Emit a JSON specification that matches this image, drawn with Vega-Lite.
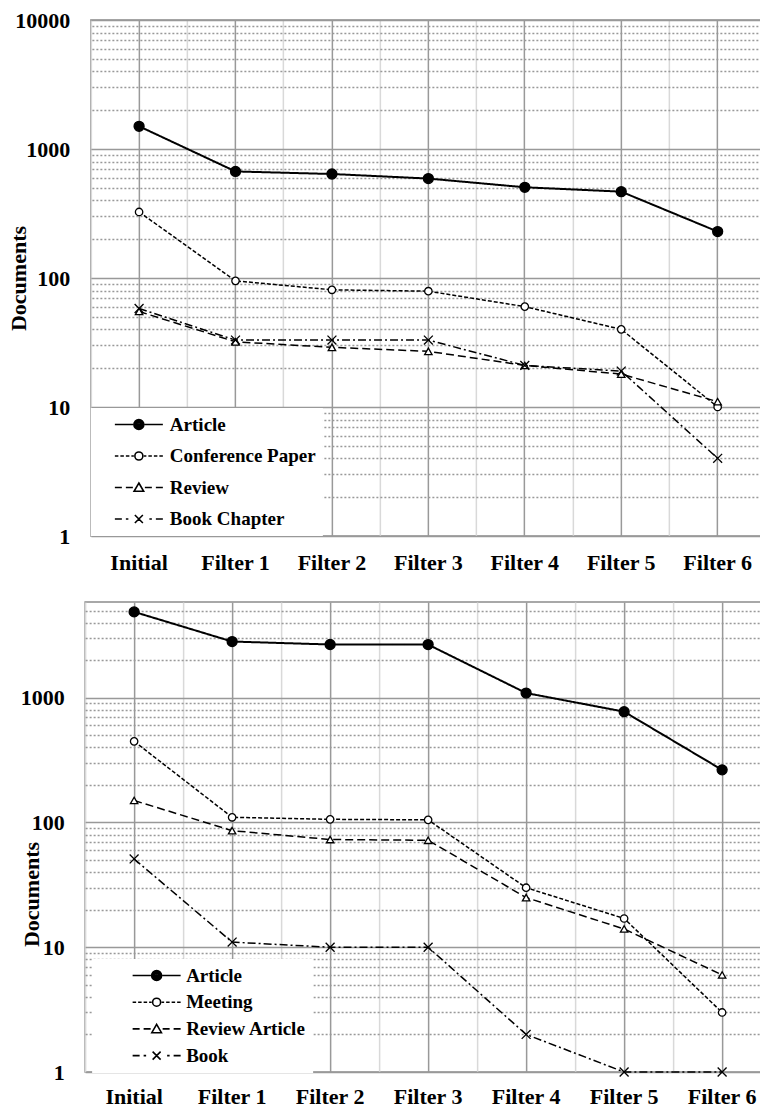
{
  "$schema": "https://vega.github.io/schema/vega-lite/v6.json",
  "padding": {"left": 7, "top": 8, "right": 0, "bottom": 0},
  "background": "white",
  "datasets": {
    "top": [
      {"stage": "Initial", "type": "Article", "documents": 1500},
      {"stage": "Filter 1", "type": "Article", "documents": 670},
      {"stage": "Filter 2", "type": "Article", "documents": 640},
      {"stage": "Filter 3", "type": "Article", "documents": 590},
      {"stage": "Filter 4", "type": "Article", "documents": 505},
      {"stage": "Filter 5", "type": "Article", "documents": 467},
      {"stage": "Filter 6", "type": "Article", "documents": 229},
      {"stage": "Initial", "type": "Conference Paper", "documents": 325},
      {"stage": "Filter 1", "type": "Conference Paper", "documents": 95},
      {"stage": "Filter 2", "type": "Conference Paper", "documents": 81},
      {"stage": "Filter 3", "type": "Conference Paper", "documents": 79},
      {"stage": "Filter 4", "type": "Conference Paper", "documents": 60},
      {"stage": "Filter 5", "type": "Conference Paper", "documents": 40},
      {"stage": "Filter 6", "type": "Conference Paper", "documents": 10},
      {"stage": "Initial", "type": "Review", "documents": 55},
      {"stage": "Filter 1", "type": "Review", "documents": 32},
      {"stage": "Filter 2", "type": "Review", "documents": 29},
      {"stage": "Filter 3", "type": "Review", "documents": 27},
      {"stage": "Filter 4", "type": "Review", "documents": 21},
      {"stage": "Filter 5", "type": "Review", "documents": 18},
      {"stage": "Filter 6", "type": "Review", "documents": 11},
      {"stage": "Initial", "type": "Book Chapter", "documents": 58},
      {"stage": "Filter 1", "type": "Book Chapter", "documents": 33},
      {"stage": "Filter 2", "type": "Book Chapter", "documents": 33},
      {"stage": "Filter 3", "type": "Book Chapter", "documents": 33},
      {"stage": "Filter 4", "type": "Book Chapter", "documents": 21},
      {"stage": "Filter 5", "type": "Book Chapter", "documents": 19},
      {"stage": "Filter 6", "type": "Book Chapter", "documents": 4}
    ],
    "bottom": [
      {"stage": "Initial", "type": "Article", "documents": 4875},
      {"stage": "Filter 1", "type": "Article", "documents": 2820},
      {"stage": "Filter 2", "type": "Article", "documents": 2670},
      {"stage": "Filter 3", "type": "Article", "documents": 2665},
      {"stage": "Filter 4", "type": "Article", "documents": 1090},
      {"stage": "Filter 5", "type": "Article", "documents": 773},
      {"stage": "Filter 6", "type": "Article", "documents": 264},
      {"stage": "Initial", "type": "Meeting", "documents": 447},
      {"stage": "Filter 1", "type": "Meeting", "documents": 110},
      {"stage": "Filter 2", "type": "Meeting", "documents": 106},
      {"stage": "Filter 3", "type": "Meeting", "documents": 105},
      {"stage": "Filter 4", "type": "Meeting", "documents": 30},
      {"stage": "Filter 5", "type": "Meeting", "documents": 17},
      {"stage": "Filter 6", "type": "Meeting", "documents": 3},
      {"stage": "Initial", "type": "Review Article", "documents": 150},
      {"stage": "Filter 1", "type": "Review Article", "documents": 86},
      {"stage": "Filter 2", "type": "Review Article", "documents": 73},
      {"stage": "Filter 3", "type": "Review Article", "documents": 72},
      {"stage": "Filter 4", "type": "Review Article", "documents": 25},
      {"stage": "Filter 5", "type": "Review Article", "documents": 14},
      {"stage": "Filter 6", "type": "Review Article", "documents": 6},
      {"stage": "Initial", "type": "Book", "documents": 51},
      {"stage": "Filter 1", "type": "Book", "documents": 11},
      {"stage": "Filter 2", "type": "Book", "documents": 10},
      {"stage": "Filter 3", "type": "Book", "documents": 10},
      {"stage": "Filter 4", "type": "Book", "documents": 2},
      {"stage": "Filter 5", "type": "Book", "documents": 1},
      {"stage": "Filter 6", "type": "Book", "documents": 1}
    ]
  },
  "vconcat": [
    {
      "width": 675,
      "height": 516,
      "data": {"name": "top"},
      "resolve": {"axis": {"x": "independent", "y": "independent"}, "scale": {"shape": "independent"}},
      "layer": [
        {
          "mark": {"type": "line", "color": "black"},
          "encoding": {
            "x": {
              "field": "stage", "type": "nominal", "bandPosition": 0.5,
              "sort": ["Initial", "Filter 1", "Filter 2", "Filter 3", "Filter 4", "Filter 5", "Filter 6"],
              "scale": {"type": "band", "paddingInner": 0, "paddingOuter": 0},
              "axis": {"orient": "bottom", "title": null, "labelAngle": 0, "labelFont": "Liberation Serif", "labelFontWeight": "bold", "labelFontSize": 22, "labelColor": "black", "labelPadding": 16, "ticks": false, "domain": false, "grid": true, "gridColor": "#999999", "gridWidth": 1.5, "bandPosition": 0.5}
            },
            "y": {
              "field": "documents", "type": "quantitative",
              "scale": {"type": "log", "domain": [1, 10000], "nice": false},
              "axis": {
                "orient": "left",
                "title": "Documents", "titleFont": "Liberation Serif", "titleFontWeight": "bold", "titleFontSize": 22, "titleColor": "black", "titleBaseline": "alphabetic", "titleX": -65,
                "values": [1, 10, 100, 1000, 10000],
                "format": "d",
                "labelFont": "Liberation Serif", "labelFontWeight": "bold", "labelFontSize": 22, "labelColor": "black", "labelPadding": 21, "labelOverlap": false,
                "ticks": false, "domain": false, "grid": true, "gridColor": "#999999", "gridWidth": 1.5
              }
            },
            "strokeDash": {
              "field": "type", "type": "nominal",
              "sort": ["Article", "Conference Paper", "Review", "Book Chapter"],
              "scale": {"range": [[1, 0], [4, 2], [8, 4], [8, 3, 2, 3]]},
              "legend": null
            },
            "strokeWidth": {"condition": {"test": "datum.type === 'Article'", "value": 2}, "value": 1.5}
          }
        },
        {
          "mark": {"type": "point", "stroke": "black", "strokeWidth": 1.3, "opacity": 1},
          "encoding": {
            "x": {
              "field": "stage", "type": "nominal", "bandPosition": 0.5,
              "sort": ["Initial", "Filter 1", "Filter 2", "Filter 3", "Filter 4", "Filter 5", "Filter 6"],
              "axis": {"orient": "top", "title": null, "labels": false, "ticks": false, "domain": false, "grid": true, "gridColor": "#d9d9d9", "gridWidth": 1.5, "bandPosition": 0}
            },
            "y": {
              "field": "documents", "type": "quantitative",
              "axis": {"orient": "right", "title": null, "labels": true, "labelExpr": "''", "labelPadding": 0, "minExtent": 0, "maxExtent": 0, "labelOverlap": false, "ticks": false, "domain": false, "grid": true, "gridColor": "#999999", "gridWidth": 1.3, "gridDash": [2, 2],
                "values": [2, 3, 4, 5, 6, 7, 8, 9, 20, 30, 40, 50, 60, 70, 80, 90, 200, 300, 400, 500, 600, 700, 800, 900, 2000, 3000, 4000, 5000, 6000, 7000, 8000, 9000]}
            },
            "shape": {
              "field": "type", "type": "nominal",
              "scale": {"domain": ["Article", "Conference Paper", "Review", "Book Chapter"], "range": ["circle", "circle", "triangle-up", "M-1.2,-1.2L1.2,1.2M-1.2,1.2L1.2,-1.2"]},
              "legend": null
            },
            "fill": {"condition": {"test": "datum.type === 'Article'", "value": "black"}, "value": "white"},
            "size": {"condition": {"test": "datum.type === 'Article'", "value": 100}, "value": 55}
          }
        },
        {
          "mark": {"type": "point", "stroke": "black", "strokeWidth": 1.6, "opacity": 0},
          "encoding": {
            "x": {
              "field": "stage", "type": "nominal", "bandPosition": 0.5,
              "sort": ["Initial", "Filter 1", "Filter 2", "Filter 3", "Filter 4", "Filter 5", "Filter 6"],
              "axis": null
            },
            "y": {"field": "documents", "type": "quantitative", "axis": null},
            "shape": {
              "field": "type", "type": "nominal",
              "scale": {"domain": ["Article", "Conference Paper", "Review", "Book Chapter"], "range": [
                "M-24,0L-5.8,0M5.8,0L24,0M5,0A5,5 0 1,1 -5,0A5,5 0 1,1 5,0M3.6,0A3.6,3.6 0 1,1 -3.6,0A3.6,3.6 0 1,1 3.6,0M2.2,0A2.2,2.2 0 1,1 -2.2,0A2.2,2.2 0 1,1 2.2,0M0.8,0A0.8,0.8 0 1,1 -0.8,0A0.8,0.8 0 1,1 0.8,0",
                "M-24,0L-20.5,0M-18.5,0L-15,0M-13,0L-9.5,0M-7.5,0L-5,0M5,0L7.5,0M9.5,0L13,0M15,0L18.5,0M20.5,0L24,0M4,0A4,4 0 1,1 -4,0A4,4 0 1,1 4,0Z",
                "M-24,0L-17,0M-13,0L-6,0M6,0L13,0M17,0L24,0M0,-4.5L4.8,3.8L-4.8,3.8Z",
                "M-24,0L-17,0M-13,0L-10.5,0M10.5,0L13,0M17,0L24,0M-4,-4L4,4M-4,4L4,-4"
              ]},
              "legend": {"orient": "none", "legendX": 0, "legendY": 388, "title": null, "symbolSize": 4, "symbolOpacity": 1, "symbolStrokeWidth": 1.6, "labelFont": "Liberation Serif", "labelFontWeight": "bold", "labelFontSize": 19, "labelColor": "black", "labelOffset": 21.5, "symbolOffset": 31.5, "padding": 7, "rowPadding": 11.5, "fillColor": "white"}
            }
          }
        }
      ]
    },
    {
      "width": 686,
      "height": 470,
      "data": {"name": "bottom"},
      "resolve": {"axis": {"x": "independent", "y": "independent"}, "scale": {"shape": "independent"}},
      "layer": [
        {
          "mark": {"type": "line", "color": "black"},
          "encoding": {
            "x": {
              "field": "stage", "type": "nominal", "bandPosition": 0.5,
              "sort": ["Initial", "Filter 1", "Filter 2", "Filter 3", "Filter 4", "Filter 5", "Filter 6"],
              "scale": {"type": "band", "paddingInner": 0, "paddingOuter": 0},
              "axis": {"orient": "bottom", "title": null, "labelAngle": 0, "labelFont": "Liberation Serif", "labelFontWeight": "bold", "labelFontSize": 22, "labelColor": "black", "labelPadding": 14, "ticks": false, "domain": false, "grid": true, "gridColor": "#999999", "gridWidth": 1.5, "bandPosition": 0.5}
            },
            "y": {
              "field": "documents", "type": "quantitative",
              "scale": {"type": "log", "domain": [1, 5850], "nice": false},
              "axis": {
                "orient": "left",
                "title": "Documents", "titleFont": "Liberation Serif", "titleFontWeight": "bold", "titleFontSize": 22, "titleColor": "black", "titleBaseline": "alphabetic", "titleX": -47, "titleY": 292,
                "values": [1, 10, 100, 1000],
                "format": "d",
                "labelFont": "Liberation Serif", "labelFontWeight": "bold", "labelFontSize": 22, "labelColor": "black", "labelPadding": 21, "labelOverlap": false,
                "ticks": false, "domain": false, "grid": true, "gridColor": "#999999", "gridWidth": 1.5
              }
            },
            "strokeDash": {
              "field": "type", "type": "nominal",
              "sort": ["Article", "Meeting", "Review Article", "Book"],
              "scale": {"range": [[1, 0], [4, 2], [8, 4], [8, 3, 2, 3]]},
              "legend": null
            },
            "strokeWidth": {"condition": {"test": "datum.type === 'Article'", "value": 2}, "value": 1.5}
          }
        },
        {
          "mark": {"type": "point", "stroke": "black", "strokeWidth": 1.3, "opacity": 1},
          "encoding": {
            "x": {
              "field": "stage", "type": "nominal", "bandPosition": 0.5,
              "sort": ["Initial", "Filter 1", "Filter 2", "Filter 3", "Filter 4", "Filter 5", "Filter 6"],
              "axis": {"orient": "top", "title": null, "labels": false, "ticks": false, "domain": false, "grid": true, "gridColor": "#d9d9d9", "gridWidth": 1.5, "bandPosition": 0}
            },
            "y": {
              "field": "documents", "type": "quantitative",
              "axis": {"orient": "right", "title": null, "labels": true, "labelExpr": "''", "labelPadding": 18, "minExtent": 18, "maxExtent": 18, "labelOverlap": false, "ticks": false, "domain": false, "grid": true, "gridColor": "#999999", "gridWidth": 1.3, "gridDash": [2, 2],
                "values": [2, 3, 4, 5, 6, 7, 8, 9, 20, 30, 40, 50, 60, 70, 80, 90, 200, 300, 400, 500, 600, 700, 800, 900, 2000, 3000, 4000, 5000]}
            },
            "shape": {
              "field": "type", "type": "nominal",
              "scale": {"domain": ["Article", "Meeting", "Review Article", "Book"], "range": ["circle", "circle", "triangle-up", "M-1.2,-1.2L1.2,1.2M-1.2,1.2L1.2,-1.2"]},
              "legend": null
            },
            "fill": {"condition": {"test": "datum.type === 'Article'", "value": "black"}, "value": "white"},
            "size": {"condition": {"test": "datum.type === 'Article'", "value": 100}, "value": 55}
          }
        },
        {
          "mark": {"type": "point", "stroke": "black", "strokeWidth": 1.6, "opacity": 0},
          "encoding": {
            "x": {
              "field": "stage", "type": "nominal", "bandPosition": 0.5,
              "sort": ["Initial", "Filter 1", "Filter 2", "Filter 3", "Filter 4", "Filter 5", "Filter 6"],
              "axis": null
            },
            "y": {"field": "documents", "type": "quantitative", "axis": null},
            "shape": {
              "field": "type", "type": "nominal",
              "scale": {"domain": ["Article", "Meeting", "Review Article", "Book"], "range": [
                "M-24,0L-5.8,0M5.8,0L24,0M5,0A5,5 0 1,1 -5,0A5,5 0 1,1 5,0M3.6,0A3.6,3.6 0 1,1 -3.6,0A3.6,3.6 0 1,1 3.6,0M2.2,0A2.2,2.2 0 1,1 -2.2,0A2.2,2.2 0 1,1 2.2,0M0.8,0A0.8,0.8 0 1,1 -0.8,0A0.8,0.8 0 1,1 0.8,0",
                "M-24,0L-20.5,0M-18.5,0L-15,0M-13,0L-9.5,0M-7.5,0L-5,0M5,0L7.5,0M9.5,0L13,0M15,0L18.5,0M20.5,0L24,0M4,0A4,4 0 1,1 -4,0A4,4 0 1,1 4,0Z",
                "M-24,0L-17,0M-13,0L-6,0M6,0L13,0M17,0L24,0M0,-4.5L4.8,3.8L-4.8,3.8Z",
                "M-24,0L-17,0M-13,0L-10.5,0M10.5,0L13,0M17,0L24,0M-4,-4L4,4M-4,4L4,-4"
              ]},
              "legend": {"orient": "none", "legendX": 7, "legendY": 357, "title": null, "symbolSize": 4, "symbolOpacity": 1, "symbolStrokeWidth": 1.6, "labelFont": "Liberation Serif", "labelFontWeight": "bold", "labelFontSize": 19, "labelColor": "black", "labelOffset": 20, "symbolOffset": 48, "padding": 7, "rowPadding": 6.7, "fillColor": "white"}
            }
          }
        }
      ]
    }
  ],
  "spacing": 23,
  "center": true,
  "resolve": {"scale": {"x": "independent", "y": "independent", "strokeDash": "independent", "shape": "independent"}},
  "config": {
    "view": {"stroke": "#8c8c8c", "strokeWidth": 1.5},
    "font": "Liberation Serif"
  }
}
